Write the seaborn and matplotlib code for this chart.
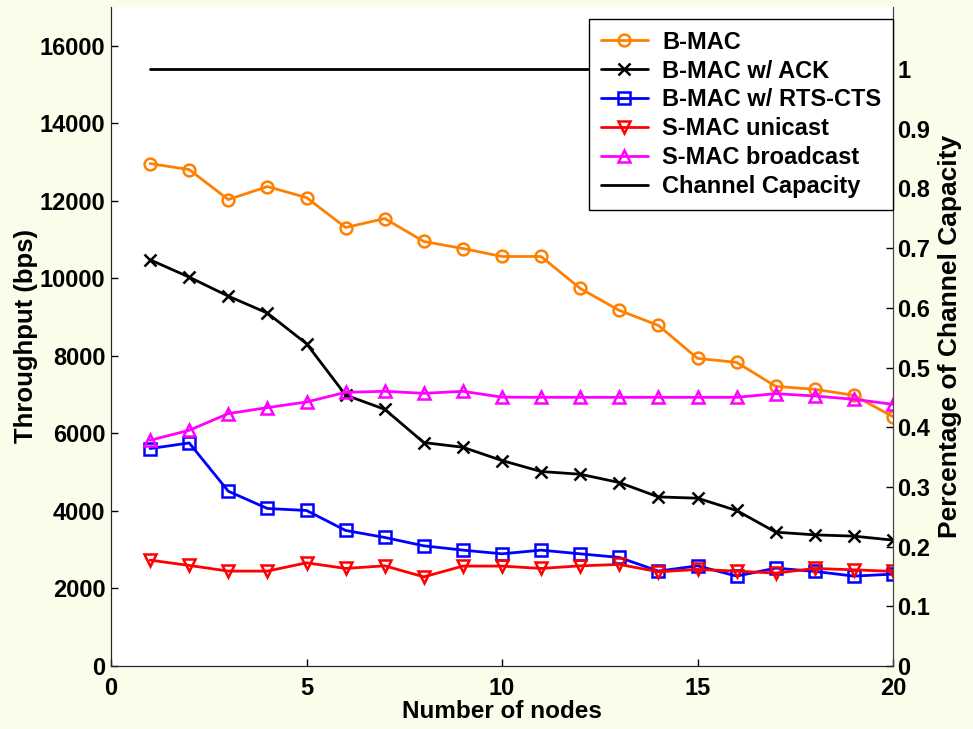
import matplotlib
matplotlib.use("Agg")
import matplotlib.pyplot as plt
import seaborn as sns
import pandas as pd

nodes = list(range(1, 21))
bmac = [12960, 12806, 12033, 12368, 12084, 11311, 11543, 10951, 10770, 10564,
        10564, 9740, 9173, 8786, 7936, 7833, 7215, 7137, 6983, 6430]
bmac_ack = [10479, 10031, 9541, 9104, 8315, 6990, 6622, 5764, 5643, 5300,
            5017, 4947, 4733, 4362, 4329, 4012, 3453, 3383, 3350, 3247]
bmac_rts = [5609, 5754, 4509, 4063, 4012, 3497, 3316, 3100, 2989, 2894,
            2989, 2894, 2800, 2448, 2584, 2319, 2525, 2440, 2319, 2370]
smac_uni = [2731, 2594, 2448, 2448, 2662, 2517, 2584, 2300, 2577, 2577,
            2517, 2584, 2620, 2430, 2491, 2448, 2396, 2517, 2481, 2440]
smac_bc = [5823, 6081, 6511, 6666, 6810, 7060, 7086, 7034, 7086, 6935,
           6931, 6931, 6931, 6931, 6931, 6931, 7026, 6965, 6880, 6751]
capacity = 15400
capacity_line = [capacity] * len(nodes)

series_names = ["B-MAC", "B-MAC w/ ACK", "B-MAC w/ RTS-CTS", "S-MAC unicast",
                "S-MAC broadcast"]
series_values = [bmac, bmac_ack, bmac_rts, smac_uni, smac_bc]
series_colors = ["#FF8000", "#000000", "#0000FF", "#FF0000", "#FF00FF"]
series_markers = ["o", "x", "s", "v", "^"]

x_ticks = [0, 5, 10, 15, 20]
y_ticks = list(range(0, 16001, 2000))
y2_ticks = [i / 10 for i in range(0, 11)]
y2_labels = ["0", "0.1", "0.2", "0.3", "0.4", "0.5", "0.6", "0.7", "0.8", "0.9", "1"]

sns.set_style("ticks")
plt.rcParams["font.family"] = ["Liberation Sans", "DejaVu Sans"]
plt.rcParams["font.weight"] = "bold"
plt.rcParams["axes.labelweight"] = "bold"
plt.rcParams["xtick.direction"] = "in"
plt.rcParams["ytick.direction"] = "in"
for k in ["text.color", "axes.labelcolor", "xtick.color", "ytick.color"]:
    plt.rcParams[k] = "black"

bg = "#FCFCEB"
fig = plt.figure(figsize=(9.73, 7.29), dpi=100, facecolor=bg)
ax = fig.add_axes([111 / 973, 1 - 666 / 729, (893 - 111) / 973, (666 - 7) / 729])
ax.set_facecolor("white")

for name, vals, col, mk in zip(series_names, series_values, series_colors, series_markers):
    df = pd.DataFrame({"x": nodes, "y": vals})
    sns.lineplot(data=df, x="x", y="y", ax=ax, color=col, marker=mk,
                 markersize=8.5 if mk != "x" else 8, markerfacecolor="none",
                 markeredgecolor=col, markeredgewidth=1.8, linewidth=2,
                 label=name)

dfc = pd.DataFrame({"x": nodes, "y": capacity_line})
sns.lineplot(data=dfc, x="x", y="y", ax=ax, color="black", linewidth=2,
             label="Channel Capacity")

ax.set_xlim(0, 20)
ax.set_ylim(0, 17000)
ax.set_xticks(x_ticks)
ax.set_yticks(y_ticks)
ax.set_xticklabels([str(t) for t in x_ticks], fontsize=17, fontweight="bold")
ax.set_yticklabels([str(t) for t in y_ticks], fontsize=17, fontweight="bold")
ax.tick_params(axis="y", length=5, width=1, pad=4)
ax.tick_params(axis="x", length=5, width=1, pad=8)
ax.set_xlabel("Number of nodes", fontsize=17.5, fontweight="bold", labelpad=0)
ax.set_ylabel("Throughput (bps)", fontsize=18.5, fontweight="bold", labelpad=1)
ax.spines["top"].set_visible(False)
ax.spines["left"].set_color("#444444")

ax2 = ax.twinx()
ax2.set_ylim(0, 17000 / capacity)
ax2.set_yticks(y2_ticks)
ax2.set_yticklabels(y2_labels, fontsize=17, fontweight="bold")
ax2.tick_params(axis="y", length=5, width=1, pad=3, direction="in")
ax2.set_ylabel("Percentage of Channel Capacity", fontsize=19, fontweight="bold",
               labelpad=6)
ax2.spines["top"].set_visible(False)
ax2.spines["right"].set_color("#444444")

handles, labels = ax.get_legend_handles_labels()
ax.get_legend().remove()
leg = ax2.legend(handles, labels, loc="upper right", bbox_to_anchor=(1.0, 0.982),
                 borderaxespad=0, fancybox=False, frameon=True, edgecolor="black",
                 framealpha=1, prop={"size": 17, "weight": "bold"},
                 handlelength=2.0, handletextpad=0.6, labelspacing=0.25,
                 borderpad=0.5)
leg.get_frame().set_linewidth(1)

fig.savefig("out.png", dpi=100, facecolor=bg)
